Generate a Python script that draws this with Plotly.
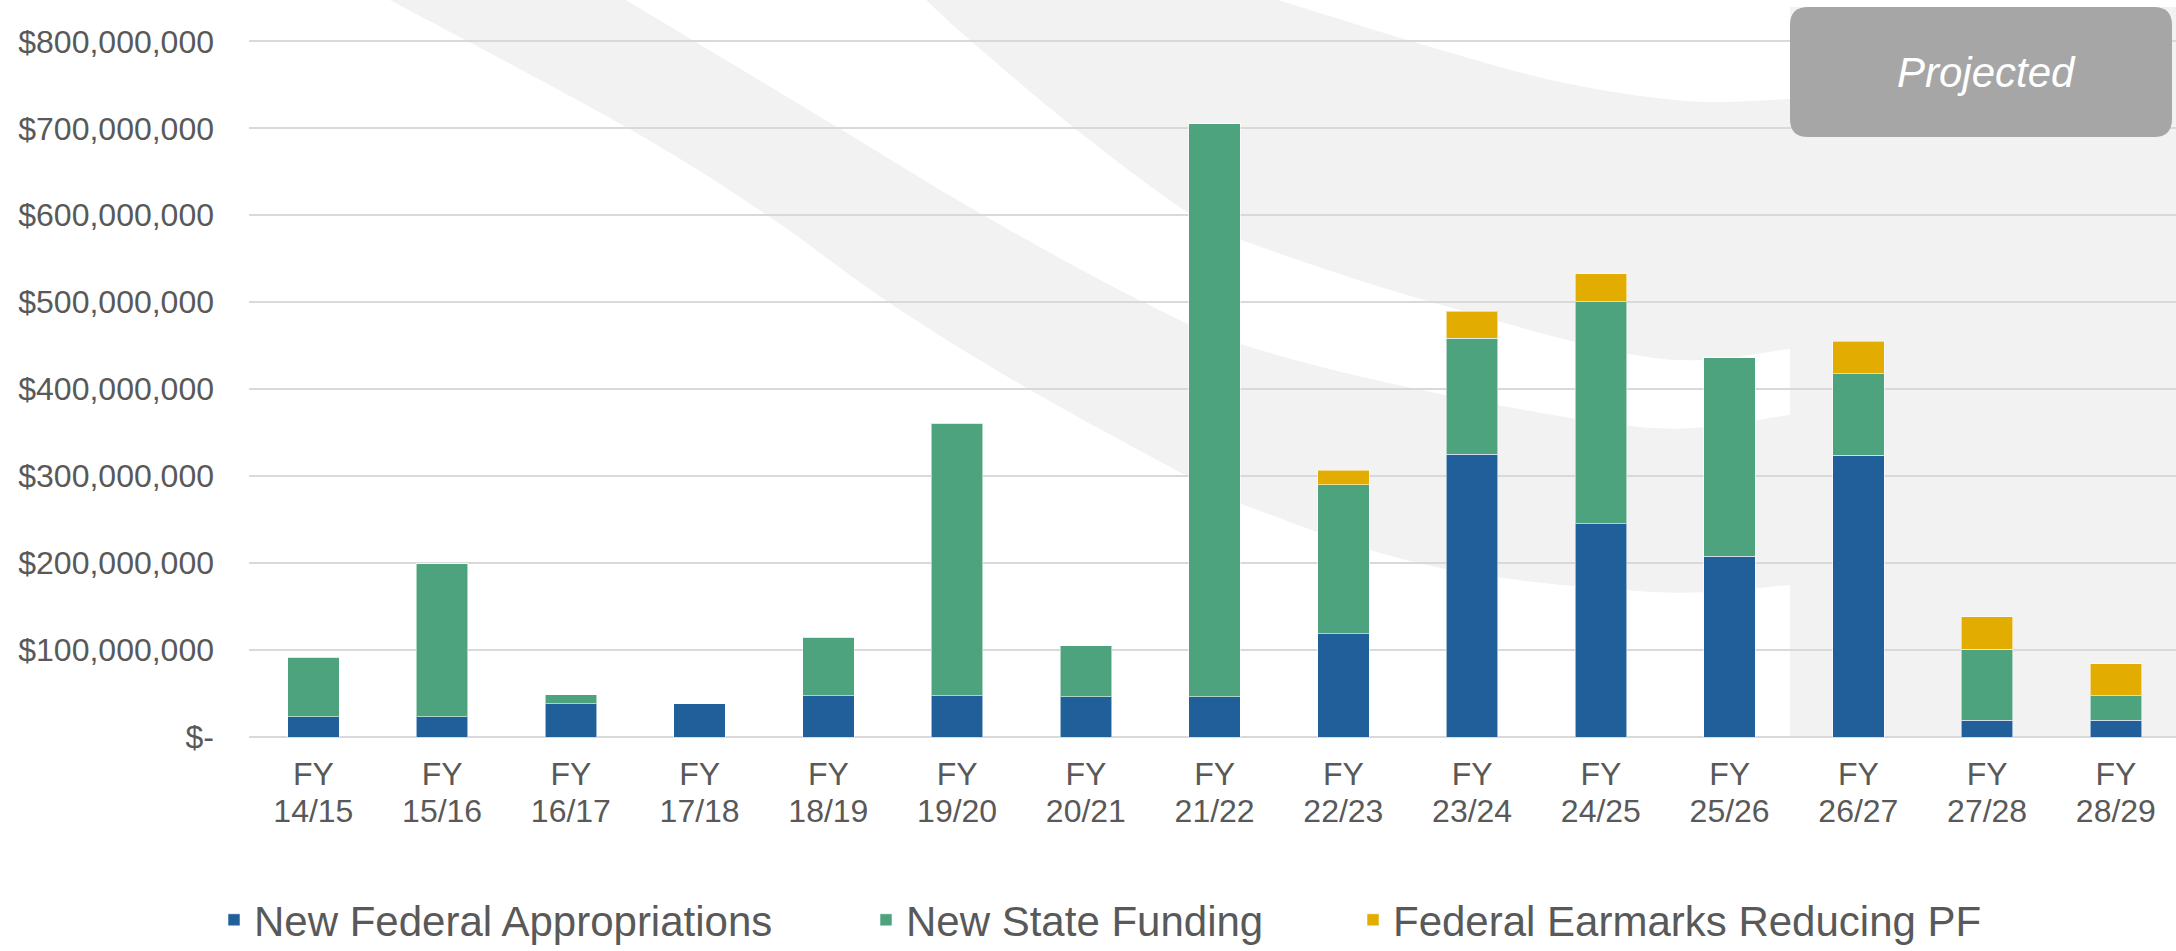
import plotly.graph_objects as go

# ---------------- data (values in millions of dollars) ----------------
categories = ["FY<br>14/15", "FY<br>15/16", "FY<br>16/17", "FY<br>17/18", "FY<br>18/19",
              "FY<br>19/20", "FY<br>20/21", "FY<br>21/22", "FY<br>22/23", "FY<br>23/24",
              "FY<br>24/25", "FY<br>25/26", "FY<br>26/27", "FY<br>27/28", "FY<br>28/29"]
federal_m = [23.5, 23.5, 38.5, 38, 47.5, 47.5, 46.5, 46.5, 119, 325, 245, 208, 324, 19.5, 19.5]
state_m = [68.5, 176, 10, 0, 67.5, 313.5, 58.5, 658.5, 171, 133.5, 255.5, 228, 94, 81.5, 28]
earmarks_m = [0, 0, 0, 0, 0, 0, 0, 0, 16.5, 31, 32, 0, 37, 37.5, 37]
series_names = ["New Federal Appropriations", "New State Funding", "Federal Earmarks Reducing PF"]
y_tick_values_m = [0, 100, 200, 300, 400, 500, 600, 700, 800]
y_tick_labels = ["$-", "$100,000,000", "$200,000,000", "$300,000,000", "$400,000,000",
                 "$500,000,000", "$600,000,000", "$700,000,000", "$800,000,000"]
projected_label = "Projected"

# ---------------- styling ----------------
FONT = "Liberation Sans, Arial, sans-serif"
TEXT = "#595959"
BLUE = "#215F9A"
GREEN = "#4CA37D"
GOLD = "#E2AC00"
BAND = "#F2F2F2"
GRID = "#D9D9D9"

W, H = 2176, 951
M_L, M_R, M_T, M_B = 249, 0, 37, 214
PW = W - M_L - M_R
PH = H - M_T - M_B


def to_paper(x, y):
    return ((x - M_L) / PW, (H - M_B - y) / PH)


def smooth(pts):
    """Catmull-Rom through pixel points -> cubic segments in paper coords."""
    out = []
    n = len(pts)
    for i in range(n - 1):
        p0 = pts[i - 1] if i > 0 else pts[i]
        p1 = pts[i]
        p2 = pts[i + 1]
        p3 = pts[i + 2] if i + 2 < n else pts[i + 1]
        c1 = (p1[0] + (p2[0] - p0[0]) / 6, p1[1] + (p2[1] - p0[1]) / 6)
        c2 = (p2[0] - (p3[0] - p1[0]) / 6, p2[1] - (p3[1] - p1[1]) / 6)
        a = to_paper(*c1)
        b = to_paper(*c2)
        c = to_paper(*p2)
        out.append(f"C{a[0]:.5f},{a[1]:.5f} {b[0]:.5f},{b[1]:.5f} {c[0]:.5f},{c[1]:.5f}")
    return " ".join(out)


def band_path(upper, lower):
    s = to_paper(*upper[0])
    path = f"M{s[0]:.5f},{s[1]:.5f} " + smooth(upper)
    lr = list(reversed(lower))
    e = to_paper(*lr[0])
    path += f" L{e[0]:.5f},{e[1]:.5f} " + smooth(lr) + " Z"
    return path


# decorative swooshes (pixel outlines)
band_a_upper = [(626, 0), (837, 127), (983, 215), (1143, 302), (1250, 347), (1431, 392), (1654, 428), (1790, 415)]
band_a_lower = [(390, 0), (626, 127), (767, 215), (888, 302), (1025, 387), (1187, 476), (1250, 507), (1431, 566), (1654, 592), (1790, 585)]
band_b_upper = [(1278, 0), (1431, 47), (1560, 82), (1686, 101), (1790, 99)]
band_b_lower = [(926, 0), (971, 41), (1073, 127), (1187, 212), (1250, 243), (1431, 302), (1654, 358), (1790, 349)]

shapes = [
    dict(type="path", xref="paper", yref="paper", path=band_path(band_a_upper, band_a_lower),
         fillcolor=BAND, line=dict(width=0), layer="below"),
    dict(type="path", xref="paper", yref="paper", path=band_path(band_b_upper, band_b_lower),
         fillcolor=BAND, line=dict(width=0), layer="below"),
]
# projected background region
x0, y0 = to_paper(1790, 7)
x1, y1 = to_paper(2176, 737)
shapes.append(dict(type="rect", xref="paper", yref="paper", x0=x0, x1=x1, y0=y1, y1=y0,
                   fillcolor=BAND, line=dict(width=0), layer="below"))

# rounded "Projected" box
bx0, bx1, by0, by1, r = 1790, 2172, 7, 137, 18
pts = [("M", bx0 + r, by0), ("L", bx1 - r, by0), ("Q", bx1, by0, bx1, by0 + r), ("L", bx1, by1 - r),
       ("Q", bx1, by1, bx1 - r, by1), ("L", bx0 + r, by1), ("Q", bx0, by1, bx0, by1 - r),
       ("L", bx0, by0 + r), ("Q", bx0, by0, bx0 + r, by0)]
parts = []
for p in pts:
    if p[0] == "Q":
        a = to_paper(p[1], p[2]); b = to_paper(p[3], p[4])
        parts.append(f"Q{a[0]:.5f},{a[1]:.5f} {b[0]:.5f},{b[1]:.5f}")
    else:
        a = to_paper(p[1], p[2])
        parts.append(f"{p[0]}{a[0]:.5f},{a[1]:.5f}")
shapes.append(dict(type="path", xref="paper", yref="paper", path=" ".join(parts) + " Z",
                   fillcolor="#A6A6A6", line=dict(width=0), layer="above"))

tx, ty = to_paper(1986, 73)
annotations = [dict(xref="paper", yref="paper", x=tx, y=ty, xanchor="center", yanchor="middle",
                    text=f"<i>{projected_label}</i>", showarrow=False,
                    font=dict(family=FONT, size=42, color="white"))]

fig = go.Figure()
line_style = dict(width=1, color="rgba(255,255,255,0.55)")
fig.add_trace(go.Bar(x=categories, y=[v * 1e6 for v in federal_m], name=series_names[0],
                     marker=dict(color=BLUE, line=line_style), legend="legend"))
fig.add_trace(go.Bar(x=categories, y=[v * 1e6 for v in state_m], name=series_names[1],
                     marker=dict(color=GREEN, line=line_style), legend="legend2"))
fig.add_trace(go.Bar(x=categories, y=[v * 1e6 for v in earmarks_m], name=series_names[2],
                     marker=dict(color=GOLD, line=line_style), legend="legend3"))

leg_y = to_paper(0, 920)[1]
def leg(xpix):
    return dict(x=to_paper(xpix, 0)[0], y=leg_y, xanchor="left", yanchor="middle",
                orientation="h", bgcolor="rgba(0,0,0,0)",
                font=dict(family=FONT, size=42, color=TEXT))

# tick labels: 32px glyphs with tighter line spacing (base font sets the line step)
x_tick_text = [f'<span style="font-size:32px">{c}</span>'.replace("<br>", '</span><br><span style="font-size:32px">')
               for c in categories]

fig.update_layout(
    width=W, height=H,
    margin=dict(l=M_L, r=M_R, t=M_T, b=M_B, autoexpand=False),
    barmode="stack", bargap=0.6,
    paper_bgcolor="white", plot_bgcolor="rgba(0,0,0,0)",
    font=dict(family=FONT, color=TEXT),
    showlegend=True,
    legend=leg(254 - 40),
    legend2=leg(906 - 40),
    legend3=leg(1393 - 40),
    shapes=shapes, annotations=annotations,
    hovermode=False,
    xaxis=dict(type="category", range=[-0.5, 14.467], showgrid=False, showline=False,
               tickvals=categories, ticktext=x_tick_text,
               ticks="", ticklabelstandoff=18, tickfont=dict(family=FONT, size=28.5, color=TEXT)),
    yaxis=dict(range=[0, 805e6], tickvals=[v * 1e6 for v in y_tick_values_m], ticktext=y_tick_labels,
               showgrid=True, gridcolor=GRID, gridwidth=2, zeroline=True, zerolinecolor=GRID,
               zerolinewidth=2, showline=False, ticks="", ticklabelstandoff=34,
               tickfont=dict(family=FONT, size=32, color=TEXT)),
)

fig.write_html("out.html", config={"displayModeBar": False},
               post_script="document.body.style.margin='0px';")
